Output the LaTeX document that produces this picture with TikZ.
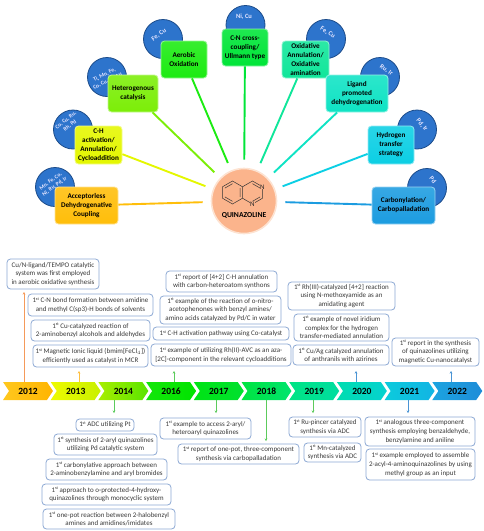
\documentclass[tikz,border=0pt]{standalone}
\usepackage{fontspec}
\setmainfont{Carlito}
\usepackage{xcolor}
\usetikzlibrary{arrows.meta, shapes.symbols, positioning, calc}

\definecolor{cAcc}{HTML}{FFBE0A}
\definecolor{cChact}{HTML}{E4F700}
\definecolor{cHetero}{HTML}{7CEE08}
\definecolor{cAerobic}{HTML}{1CEB12}
\definecolor{cCross}{HTML}{00E538}
\definecolor{cOxid}{HTML}{10E69A}
\definecolor{cLigand}{HTML}{0FE3C4}
\definecolor{cHydro}{HTML}{0CCFE4}
\definecolor{cCarbo}{HTML}{1C9CE0}
\definecolor{noteEdge}{HTML}{8CA8D4}
\definecolor{noteText}{HTML}{3A3A3A}
\definecolor{metalFill}{HTML}{2D74CC}
\definecolor{metalEdge}{HTML}{1C4C8A}
\definecolor{quinFill}{HTML}{FBB48C}
\definecolor{quinEdge}{HTML}{FDE3D2}
\definecolor{tipOrange}{HTML}{F59A5A}
\definecolor{tipAmber}{HTML}{FFC040}
\definecolor{tipGreen}{HTML}{5CCB5C}
\definecolor{tipBlue}{HTML}{4A94D4}

\newcommand{\fst}{1\kern-.2pt\raisebox{2.4pt}{\fontsize{4.2}{4.2}\selectfont st}}

\begin{document}
\begin{tikzpicture}[
    x=1pt, y=-1pt,
    metalnode/.style={circle, draw=metalEdge, line width=.8pt, fill=metalFill,
                      minimum size=39pt, inner sep=0pt},
    metaltext/.style={inner sep=0pt, align=center, text=white!90!blue,
                      font=\bfseries\fontsize{5.6}{6.8}\selectfont},
    metalbig/.style={metaltext, font=\bfseries\fontsize{6.5}{8}\selectfont},
    methodbox/.style={rounded corners=3.5pt, draw=#1!45!white, line width=.8pt,
                      top color=#1!88!white, bottom color=#1,
                      inner sep=0pt, align=center, text=black,
                      font=\bfseries\fontsize{7.2}{9}\selectfont},
    spoke/.style={line width=1.9pt, draw=#1, shorten >=8pt},
    yearbox/.style={signal, signal to=east, signal from=west, signal pointer angle=112,
                    minimum width=50pt, minimum height=18pt, inner sep=0pt, outer sep=0pt,
                    text=black, font=\bfseries\fontsize{9.5}{10}\selectfont},
    notebox/.style={rounded corners=3.5pt, draw=noteEdge, line width=.8pt, fill=white,
                    inner sep=0pt, align=center, text=noteText,
                    font=\fontsize{7}{8.7}\selectfont},
    tipline/.style={draw=#1, line width=.7pt, -{Stealth[length=2.6pt, width=2.6pt]}},
    bond/.style={line width=.5pt, draw=black!80},
    atom/.style={fill=quinFill, inner sep=.3pt, text=black!85, font=\fontsize{7}{8}\selectfont}
  ]
  \useasboundingbox (0,0) rectangle (484,531);

  \node[metalnode] (mAcc) at (55,187) {};
  \node[metalnode] (mChact) at (73,129.5) {};
  \node[metalnode] (mHetero) at (107,77) {};
  \node[metalnode] (mAerobic) at (163,39) {};
  \node[metalnode] (mCross) at (245.5,25) {};
  \node[metalnode] (mOxid) at (326,39) {};
  \node[metalnode] (mLigand) at (380,77) {};
  \node[metalnode] (mHydro) at (417,129.5) {};
  \node[metalnode] (mCarbo) at (427,188) {};
  \node[metaltext, rotate=36] (tAcc) at (52.7,184) {Mn, Fe, Co,\\Ni, Ru, Pd, Ir};
  \node[metaltext, rotate=38] (tChact) at (68,123) {Co, Cu, Ru,\\Rh, Pd};
  \node[metaltext, rotate=27] (tHetero) at (106,78) {Ti, Mn, Fe,\\Co, Cu, Pt, Au};
  \node[metalbig, rotate=35] (tAerobic) at (159,35) {Fe, Cu};
  \node[metalbig] (tCross) at (244,17) {Ni, Cu};
  \node[metalbig, rotate=-32] (tOxid) at (327.7,32.7) {Fe, Cu};
  \node[metalbig, rotate=-35] (tLigand) at (386.3,70) {Ru, Ir};
  \node[metalbig, rotate=-50] (tHydro) at (422,125) {Pd, Ir};
  \node[metalbig, rotate=-50] (tCarbo) at (433,180) {Pd};

  \node[circle, draw=quinEdge, line width=1.6pt, fill=quinFill, minimum size=65pt, inner sep=0pt] (quin) at (244,201) {};
  \node[font=\bfseries\fontsize{7.6}{9}\selectfont, inner sep=0pt] (quinName) at (244,215) {QUINAZOLINE};

  \coordinate (ringL) at (232.5,192.5);
  \coordinate (ringR) at (252.5,192.5);
  \draw[bond] ($(ringL)+(-90:11.5)$) -- ($(ringL)+(-30:11.5)$) -- ($(ringL)+(30:11.5)$) -- ($(ringL)+(90:11.5)$)
    -- ($(ringL)+(150:11.5)$) -- ($(ringL)+(210:11.5)$) -- cycle;
  \draw[bond] ($(ringL)+(-30:8.8)$) -- ($(ringL)+(30:8.8)$)
    ($(ringL)+(90:8.8)$) -- ($(ringL)+(150:8.8)$) ($(ringL)+(210:8.8)$) -- ($(ringL)+(270:8.8)$);
  \draw[bond] ($(ringR)+(-150:11.5)$) -- ($(ringR)+(-90:11.5)$) -- ($(ringR)+(-30:11.5)$) -- ($(ringR)+(30:11.5)$)
    -- ($(ringR)+(90:11.5)$) -- ($(ringR)+(150:11.5)$);
  \draw[bond] ($(ringR)+(-90:8.8)$) -- ($(ringR)+(-30:8.8)$) ($(ringR)+(30:8.8)$) -- ($(ringR)+(90:8.8)$);
  \node[atom] (atomA) at (262.5,186.8) {N};
  \node[atom] (atomB) at (252.5,204.2) {N};

  \node[methodbox=cAcc, minimum width=63pt, minimum height=37pt] (acc) at (86.5,205.5) {Acceptorless\\Dehydrogenative\\Coupling};
  \node[methodbox=cChact, minimum width=47pt, minimum height=38pt] (chact) at (98.5,145) {C-H\\activation/\\Annulation/\\Cycloaddition};
  \node[methodbox=cHetero, minimum width=50pt, minimum height=37pt] (hetero) at (133,93.5) {Heterogenous\\catalysis};
  \node[methodbox=cAerobic, minimum width=46pt, minimum height=37pt] (aerobic) at (184,59.5) {Aerobic\\Oxidation};
  \node[methodbox=cCross, minimum width=46pt, minimum height=37pt] (cross) at (245,47.5) {C-N cross-\\coupling/\\Ullmann type};
  \node[methodbox=cOxid, minimum width=47pt, minimum height=37pt] (oxid) at (305.5,59.5) {Oxidative\\Annulation/\\Oxidative\\amination};
  \node[methodbox=cLigand, minimum width=62pt, minimum height=37pt] (ligand) at (357,93.5) {Ligand\\promoted\\dehydrogenation};
  \node[methodbox=cHydro, minimum width=46pt, minimum height=38pt] (hydro) at (391,145) {Hydrogen\\transfer\\strategy};
  \node[methodbox=cCarbo, minimum width=63pt, minimum height=37pt] (carbo) at (403.5,205.5) {Carbonylation/\\Carbopalladation};

  \foreach \src/\col in {acc/cAcc, chact/cChact, hetero/cHetero, aerobic/cAerobic, cross/cCross,
                         oxid/cOxid, ligand/cLigand, hydro/cHydro, carbo/cCarbo}
    \draw[spoke=\col] (\src) -- (quin);

  \foreach \yr/\cx/\cola/\colb in {2012/28/FFC81E/FFB400, 2013/75.7/EEFA00/C8F000, 2014/123.4/A8EE00/58E400,
                                   2016/171.1/14E60A/00E400, 2017/218.8/00E414/00E030, 2018/266.5/00E440/00E46E,
                                   2019/314.2/00E484/00DDA0, 2020/361.9/00DDB0/06D2D0, 2021/409.6/0CCBDC/12B4E4,
                                   2022/457.3/1CA4E0/1E8CD8} {
    \definecolor{yrLeft}{HTML}{\cola}
    \definecolor{yrRight}{HTML}{\colb}
    \node[yearbox, left color=yrLeft, right color=yrRight] (y\yr) at (\cx,391) {\yr};
  }

  \node[notebox, minimum width=92pt, minimum height=30pt] (tempo) at (53,274) {Cu/N-ligand/TEMPO catalytic\\system was first employed\\in aerobic oxidative synthesis};
  \node[notebox, minimum width=125pt, minimum height=22pt] (cnbond) at (90.5,305) {\fst{} C-N bond formation between amidine\\and methyl C(sp3)-H bonds of solvents};
  \node[notebox, minimum width=119pt, minimum height=21pt] (cucat) at (90.5,330.5) {\fst{} Cu-catalyzed reaction of\\2-aminobenzyl alcohols and aldehydes};
  \node[notebox, minimum width=115pt, minimum height=22pt] (ionic) at (90.5,356) {\fst{} Magnetic Ionic liquid (bmim[FeCl$_4$])\\efficiently used as catalyst in MCR};
  \node[notebox, minimum width=111pt, minimum height=21pt] (annul) at (221.5,281.5) {\fst{} report of [4+2] C-H annulation\\with carbon-heteroatom synthons};
  \node[notebox, minimum width=121pt, minimum height=28pt] (nitro) at (220.5,310) {\fst{} example of the reaction of o-nitro-\\acetophenones with benzyl amines/\\amino acids catalyzed by Pd/C in water};
  \node[notebox, minimum width=136pt, minimum height=13pt] (coact) at (221,333.5) {\fst{} C-H activation pathway using Co-catalyst};
  \node[notebox, minimum width=140pt, minimum height=22pt] (avc) at (221,355) {\fst{} example of utilizing Rh(II)-AVC as an aza-\\{[2C]}-component in the relevant cycloadditions};
  \node[notebox, minimum width=107pt, minimum height=28pt] (rhmeth) at (341.5,296) {\fst{} Rh(III)-catalyzed [4+2] reaction\\using N-methoxyamide as an\\amidating agent};
  \node[notebox, minimum width=95pt, minimum height=27pt] (iridium) at (341.5,327.5) {\fst{} example of novel iridium\\complex for the hydrogen\\transfer-mediated annulation};
  \node[notebox, minimum width=96pt, minimum height=20pt] (cuag) at (341,355) {\fst{} Cu/Ag catalyzed annulation\\of anthranils with azirines};
  \node[notebox, minimum width=87pt, minimum height=28pt] (nano) at (435.5,352) {\fst{} report in the synthesis\\of quinazolines utilizing\\magnetic Cu-nanocatalyst};

  \node[notebox, minimum width=58pt, minimum height=12pt] (adc) at (105,425) {\fst{} ADC utilizing Pt};
  \node[notebox, minimum width=103pt, minimum height=21pt] (aryl) at (105.5,444.5) {\fst{} synthesis of 2-aryl quinazolines\\utilizing Pd catalytic system};
  \node[notebox, minimum width=121pt, minimum height=21pt] (carbon) at (106.5,469.5) {\fst{} carbonylative approach between\\2-aminobenzylamine and aryl bromides};
  \node[notebox, minimum width=129pt, minimum height=21pt] (protect) at (106.5,494.5) {\fst{} approach to o-protected-4-hydroxy-\\quinazolines through monocyclic system};
  \node[notebox, minimum width=132pt, minimum height=20pt] (halo) at (109,519) {\fst{} one-pot reaction between 2-halobenzyl\\amines and amidines/imidates};
  \node[notebox, minimum width=91pt, minimum height=21pt] (access) at (205.5,428.5) {\fst{} example to access 2-aryl/\\heteroaryl quinazolines};
  \node[notebox, minimum width=121pt, minimum height=20pt] (pot) at (238.5,454) {\fst{} report of one-pot, three-component\\synthesis via carbopalladation};
  \node[notebox, minimum width=72pt, minimum height=20pt] (ruadc) at (325,427) {\fst{} Ru-pincer catalyzed\\synthesis via ADC};
  \node[notebox, minimum width=57pt, minimum height=19pt] (mnadc) at (332.5,452.5) {\fst{} Mn-catalyzed\\synthesis via ADC};
  \node[notebox, minimum width=110pt, minimum height=29pt] (analog) at (420,431.5) {\fst{} analogous three-component\\synthesis employing benzaldehyde,\\benzylamine and aniline};
  \node[notebox, minimum width=109pt, minimum height=31pt] (acyl) at (420.5,464.5) {\fst{} example employed to assemble\\2-acyl-4-aminoquinazolines by using\\methyl group as an input};

  \foreach \yr/\ex/\ey/\col in {2012/24/292/tipOrange, 2013/79/371/tipAmber, 2016/174/371/tipGreen,
                                2020/356/371/tipBlue, 2022/451/371/tipBlue} {
    \coordinate (end\yr) at (\ex,\ey);
    \draw[tipline=\col] (y\yr.north -| end\yr) -- (end\yr);
  }
  \foreach \yr/\ex/\ey/\col in {2014/114/413/tipGreen, 2017/216/413/tipGreen, 2018/266/441/tipGreen,
                                2019/313/413/tipGreen, 2021/408/413/tipBlue} {
    \coordinate (end\yr) at (\ex,\ey);
    \draw[tipline=\col] (y\yr.south -| end\yr) -- (end\yr);
  }
\end{tikzpicture}
\end{document}
